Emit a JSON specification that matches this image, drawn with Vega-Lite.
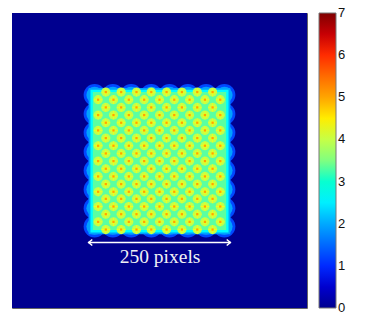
{"$schema":"https://vega.github.io/schema/vega-lite/v6.json","width":295,"height":295,"padding":{"left":12,"top":13,"right":0,"bottom":0},"background":"white","view":{"stroke":"#666666","strokeWidth":1},"config":{"legend":{"gradientLength":295,"gradientThickness":17,"labelFont":"Liberation Sans","labelFontSize":13,"labelColor":"#111111","labelOffset":4,"offset":12,"gradientStrokeColor":"#777777","gradientStrokeWidth":1}},"datasets":{"rects":[{"x":0,"x2":500,"y":0,"y2":500,"v":0},{"x":130,"x2":370,"y":127,"y2":375,"v":1.95},{"x":133,"x2":367,"y":130,"y2":372,"v":2.6},{"x":137,"x2":363,"y":134,"y2":368,"v":3.3}],"edge":[{"x":140,"y":139},{"x":171,"y":139},{"x":202,"y":139},{"x":236,"y":139},{"x":267,"y":139},{"x":298,"y":139},{"x":329,"y":139},{"x":360,"y":139},{"x":140,"y":362},{"x":171,"y":362},{"x":202,"y":362},{"x":236,"y":362},{"x":267,"y":362},{"x":298,"y":362},{"x":329,"y":362},{"x":360,"y":362},{"x":140,"y":171},{"x":140,"y":203},{"x":140,"y":235},{"x":140,"y":267},{"x":140,"y":299},{"x":140,"y":331},{"x":360,"y":171},{"x":360,"y":203},{"x":360,"y":235},{"x":360,"y":267},{"x":360,"y":299},{"x":360,"y":331}],"peaks":[{"x":159,"y":134},{"x":185,"y":134},{"x":211,"y":134},{"x":236,"y":134},{"x":262,"y":134},{"x":288,"y":134},{"x":314,"y":134},{"x":340,"y":134},{"x":146,"y":147},{"x":172,"y":147},{"x":198,"y":147},{"x":224,"y":147},{"x":250,"y":147},{"x":275,"y":147},{"x":301,"y":147},{"x":327,"y":147},{"x":353,"y":147},{"x":159,"y":160},{"x":185,"y":160},{"x":211,"y":160},{"x":236,"y":160},{"x":262,"y":160},{"x":288,"y":160},{"x":314,"y":160},{"x":340,"y":160},{"x":146,"y":173},{"x":172,"y":173},{"x":198,"y":173},{"x":224,"y":173},{"x":250,"y":173},{"x":275,"y":173},{"x":301,"y":173},{"x":327,"y":173},{"x":353,"y":173},{"x":159,"y":186},{"x":185,"y":186},{"x":211,"y":186},{"x":236,"y":186},{"x":262,"y":186},{"x":288,"y":186},{"x":314,"y":186},{"x":340,"y":186},{"x":146,"y":199},{"x":172,"y":199},{"x":198,"y":199},{"x":224,"y":199},{"x":250,"y":199},{"x":275,"y":199},{"x":301,"y":199},{"x":327,"y":199},{"x":353,"y":199},{"x":159,"y":212},{"x":185,"y":212},{"x":211,"y":212},{"x":236,"y":212},{"x":262,"y":212},{"x":288,"y":212},{"x":314,"y":212},{"x":340,"y":212},{"x":146,"y":225},{"x":172,"y":225},{"x":198,"y":225},{"x":224,"y":225},{"x":250,"y":225},{"x":275,"y":225},{"x":301,"y":225},{"x":327,"y":225},{"x":353,"y":225},{"x":159,"y":238},{"x":185,"y":238},{"x":211,"y":238},{"x":236,"y":238},{"x":262,"y":238},{"x":288,"y":238},{"x":314,"y":238},{"x":340,"y":238},{"x":146,"y":251},{"x":172,"y":251},{"x":198,"y":251},{"x":224,"y":251},{"x":250,"y":251},{"x":275,"y":251},{"x":301,"y":251},{"x":327,"y":251},{"x":353,"y":251},{"x":159,"y":264},{"x":185,"y":264},{"x":211,"y":264},{"x":236,"y":264},{"x":262,"y":264},{"x":288,"y":264},{"x":314,"y":264},{"x":340,"y":264},{"x":146,"y":277},{"x":172,"y":277},{"x":198,"y":277},{"x":224,"y":277},{"x":250,"y":277},{"x":275,"y":277},{"x":301,"y":277},{"x":327,"y":277},{"x":353,"y":277},{"x":159,"y":290},{"x":185,"y":290},{"x":211,"y":290},{"x":236,"y":290},{"x":262,"y":290},{"x":288,"y":290},{"x":314,"y":290},{"x":340,"y":290},{"x":146,"y":303},{"x":172,"y":303},{"x":198,"y":303},{"x":224,"y":303},{"x":250,"y":303},{"x":275,"y":303},{"x":301,"y":303},{"x":327,"y":303},{"x":353,"y":303},{"x":159,"y":315},{"x":185,"y":315},{"x":211,"y":315},{"x":236,"y":315},{"x":262,"y":315},{"x":288,"y":315},{"x":314,"y":315},{"x":340,"y":315},{"x":146,"y":328},{"x":172,"y":328},{"x":198,"y":328},{"x":224,"y":328},{"x":250,"y":328},{"x":275,"y":328},{"x":301,"y":328},{"x":327,"y":328},{"x":353,"y":328},{"x":159,"y":341},{"x":185,"y":341},{"x":211,"y":341},{"x":236,"y":341},{"x":262,"y":341},{"x":288,"y":341},{"x":314,"y":341},{"x":340,"y":341},{"x":146,"y":354},{"x":172,"y":354},{"x":198,"y":354},{"x":224,"y":354},{"x":250,"y":354},{"x":275,"y":354},{"x":301,"y":354},{"x":327,"y":354},{"x":353,"y":354},{"x":159,"y":367},{"x":185,"y":367},{"x":211,"y":367},{"x":236,"y":367},{"x":262,"y":367},{"x":288,"y":367},{"x":314,"y":367},{"x":340,"y":367}]},"layer":[{"data":{"name":"rects"},"transform":[{"filter":"datum.v==0"}],"mark":{"type":"rect"},"encoding":{"x":{"field":"x","type":"quantitative","scale":{"domain":[0,500],"nice":false,"zero":false},"axis":null},"x2":{"field":"x2"},"y":{"field":"y","type":"quantitative","scale":{"domain":[0,500],"reverse":true,"nice":false,"zero":false},"axis":null},"y2":{"field":"y2"},"color":{"field":"v","type":"quantitative","scale":{"domain":[0,0.875,1.75,2.625,3.5,4.375,5.25,6.125,7],"range":["#00008f","#0000ff","#0080ff","#00ffff","#80ff80","#ffff00","#ff8000","#ff0000","#800000"]},"legend":{"title":null,"values":[0,1,2,3,4,5,6,7],"type":"gradient","encode":{"labels":{"update":{"baseline":{"value":"middle"}}}}}}}},{"data":{"name":"edge"},"mark":{"type":"point","filled":true,"opacity":1,"shape":"circle","size":480},"encoding":{"x":{"field":"x","type":"quantitative"},"y":{"field":"y","type":"quantitative"},"color":{"datum":1.2}}},{"data":{"name":"edge"},"mark":{"type":"point","filled":true,"opacity":1,"shape":"circle","size":270},"encoding":{"x":{"field":"x","type":"quantitative"},"y":{"field":"y","type":"quantitative"},"color":{"datum":1.95}}},{"data":{"name":"rects"},"transform":[{"filter":"datum.v>0"}],"mark":{"type":"rect"},"encoding":{"x":{"field":"x","type":"quantitative"},"x2":{"field":"x2"},"y":{"field":"y","type":"quantitative"},"y2":{"field":"y2"},"color":{"field":"v","type":"quantitative"}}},{"data":{"name":"peaks"},"mark":{"type":"point","filled":true,"opacity":1,"shape":"circle","size":85},"encoding":{"x":{"field":"x","type":"quantitative"},"y":{"field":"y","type":"quantitative"},"color":{"datum":3.95}}},{"data":{"name":"peaks"},"mark":{"type":"point","filled":true,"opacity":1,"shape":"M-1,-0.1L1,-0.1L1,0.1L-1,0.1ZM-0.1,-1L0.1,-1L0.1,1L-0.1,1ZM-0.57,-0.43L-0.43,-0.57L0.57,0.43L0.43,0.57ZM-0.57,0.43L0.43,-0.57L0.57,-0.43L-0.43,0.57Z","size":70},"encoding":{"x":{"field":"x","type":"quantitative"},"y":{"field":"y","type":"quantitative"},"color":{"datum":4.3}}},{"data":{"name":"peaks"},"mark":{"type":"point","filled":true,"opacity":1,"shape":"square","size":5},"encoding":{"x":{"field":"x","type":"quantitative"},"y":{"field":"y","type":"quantitative"},"color":{"datum":5}}},{"data":{"values":[{"x":129,"x2":371,"y":389}]},"mark":{"type":"rule","color":"white","strokeWidth":1.5},"encoding":{"x":{"field":"x","type":"quantitative"},"x2":{"field":"x2"},"y":{"field":"y","type":"quantitative"}}},{"data":{"values":[{"x":133,"y":389}]},"mark":{"type":"point","shape":"M0.6,-1L-0.6,0L0.6,1","stroke":"white","strokeWidth":1.5,"size":36,"opacity":1,"filled":false},"encoding":{"x":{"field":"x","type":"quantitative"},"y":{"field":"y","type":"quantitative"}}},{"data":{"values":[{"x":367,"y":389}]},"mark":{"type":"point","shape":"M-0.6,-1L0.6,0L-0.6,1","stroke":"white","strokeWidth":1.5,"size":36,"opacity":1,"filled":false},"encoding":{"x":{"field":"x","type":"quantitative"},"y":{"field":"y","type":"quantitative"}}},{"data":{"values":[{"x":251,"y":413,"t":"250 pixels"}]},"mark":{"type":"text","color":"#f0f0f5","font":"Liberation Serif","fontSize":19.5,"align":"center","baseline":"middle"},"encoding":{"x":{"field":"x","type":"quantitative"},"y":{"field":"y","type":"quantitative"},"text":{"field":"t"}}}]}
